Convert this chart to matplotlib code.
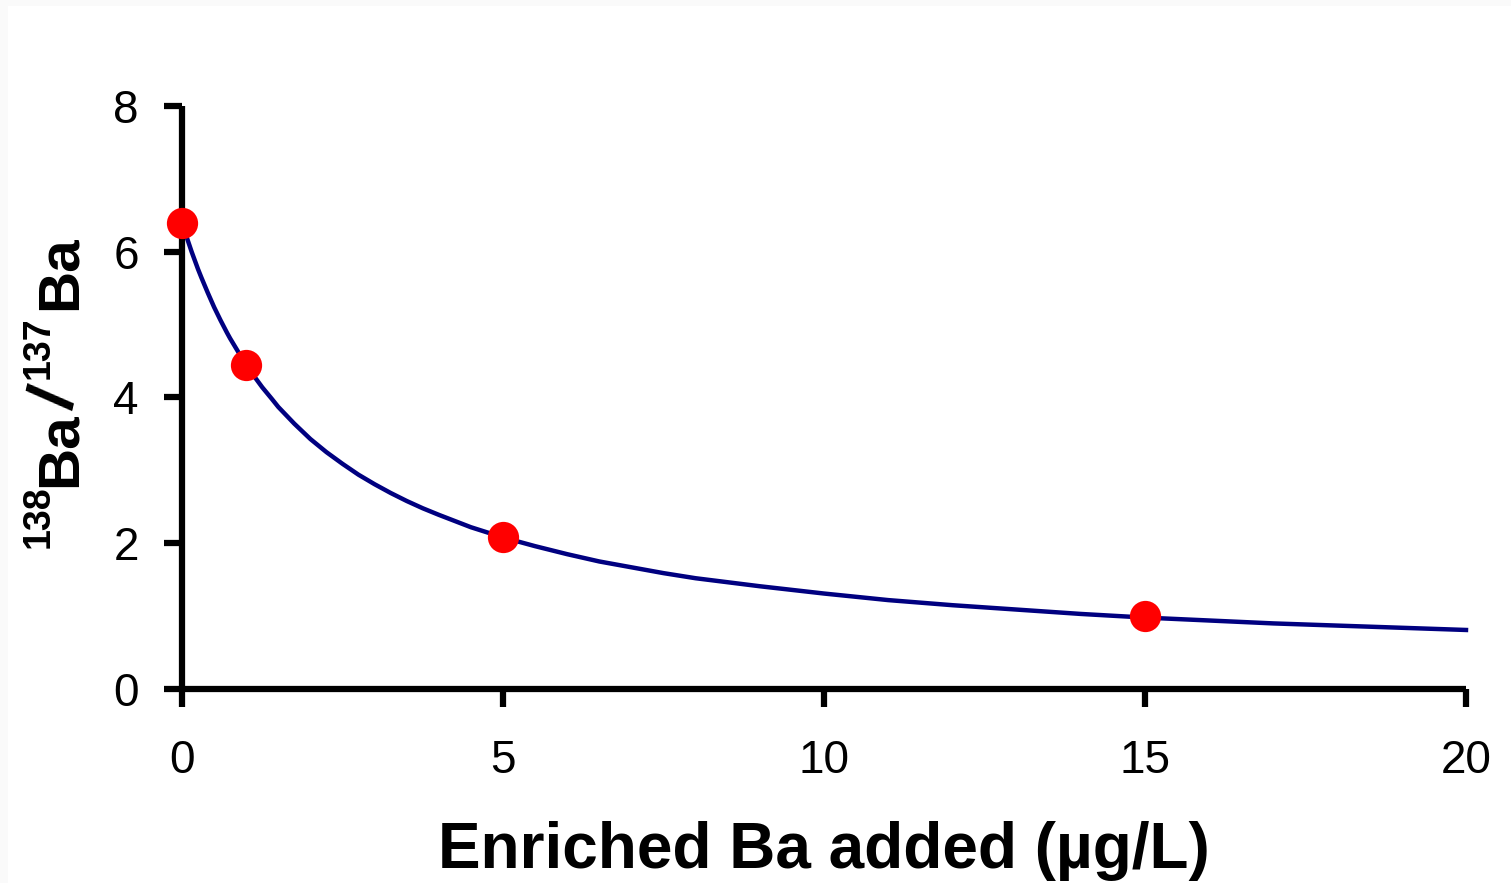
import matplotlib
matplotlib.use("Agg")
import matplotlib.pyplot as plt
from matplotlib.patches import Rectangle

# measured 138Ba/137Ba ratios vs. amount of enriched spike
spike_added = [0, 1, 5, 15]
ratio_measured = [6.40, 4.44, 2.08, 1.00]

# fitted isotope dilution curve
curve_x = [0, 0.05, 0.1, 0.15, 0.2, 0.25, 0.3, 0.4, 0.5, 0.6, 0.7, 0.75, 0.9,
           1, 1.1, 1.25, 1.4, 1.5, 1.75, 2, 2.25, 2.5, 2.75, 3, 3.25, 3.5,
           3.75, 4, 4.5, 5, 5.5, 6, 6.5, 7, 7.5, 8, 9, 10, 11, 12, 13, 14,
           15, 16, 17, 18, 19, 20]
curve_y = [6.40, 6.26, 6.13, 6.00, 5.88, 5.76, 5.65, 5.44, 5.24, 5.06, 4.89,
           4.81, 4.59, 4.45, 4.32, 4.14, 3.98, 3.87, 3.64, 3.43, 3.25, 3.09,
           2.94, 2.81, 2.69, 2.58, 2.48, 2.39, 2.22, 2.08, 1.96, 1.85, 1.75,
           1.67, 1.59, 1.52, 1.41, 1.31, 1.22, 1.15, 1.09, 1.03, 0.98, 0.94,
           0.90, 0.87, 0.84, 0.81]

xticks = [0, 5, 10, 15, 20]
yticks = [0, 2, 4, 6, 8]

W, H = 1511, 883
fig = plt.figure(figsize=(W/100, H/100), dpi=100, facecolor='#fafafa')
fig.patches.append(Rectangle((8/W, 0), 1, 1 - 6/H, transform=fig.transFigure,
                             facecolor='white', edgecolor='none', zorder=-10))

ax = fig.add_axes([182/W, 1 - 689/H, (1466-182)/W, (689-106)/H])
ax.set_facecolor('none')

ax.plot(curve_x, curve_y, color='#000080', lw=3.2, zorder=2, clip_on=False,
        solid_joinstyle='round')
ax.plot(spike_added, ratio_measured, 'o', color='#ff0000', ms=22.5,
        mec='none', zorder=3, clip_on=False)

ax.set_xlim(0, 20)
ax.set_ylim(0, 8)
ax.set_xticks(xticks)
ax.set_yticks(yticks)
ax.set_xticklabels([str(t) for t in xticks])
ax.set_yticklabels([str(t) for t in yticks])

for s in ['top', 'right']:
    ax.spines[s].set_visible(False)
for s in ['left', 'bottom']:
    ax.spines[s].set_linewidth(4.5)
    ax.spines[s].set_capstyle('butt')

ax.tick_params(axis='both', direction='out', length=13, width=4.5,
               labelsize=33, labelfontfamily='Liberation Sans')
ax.tick_params(axis='y', pad=18)
ax.tick_params(axis='x', pad=23)

ax.set_xlabel('Enriched Ba added (µg/L)', fontsize=46, fontweight='bold',
              family=['Liberation Sans', 'DejaVu Sans'], va='baseline')
ax.xaxis.set_label_coords(0.5, (689 - 868) / (689 - 106))

# rotated y label built from pieces so the mass numbers sit as superscripts
# (x = baseline column, y = start row, both in pixels from the top-left)
fam = ['Liberation Sans', 'DejaVu Sans']
pieces = [('138', 49, 548, 27), ('Ba', 76, 487, 42),
          ('137', 49, 379, 27), ('Ba', 76, 310, 42)]
for txt, bx, by, size in pieces:
    fig.text(bx/W, 1 - by/H, txt, rotation=90, rotation_mode='anchor',
             ha='left', va='baseline', fontsize=size, fontweight='bold',
             family=fam)
fig.text(56/W, 1 - 398/H, '/', rotation=77, rotation_mode='anchor',
         ha='center', va='center', fontsize=48, fontweight='bold', family=fam)

fig.savefig('out.png', dpi=100, facecolor=fig.get_facecolor())
